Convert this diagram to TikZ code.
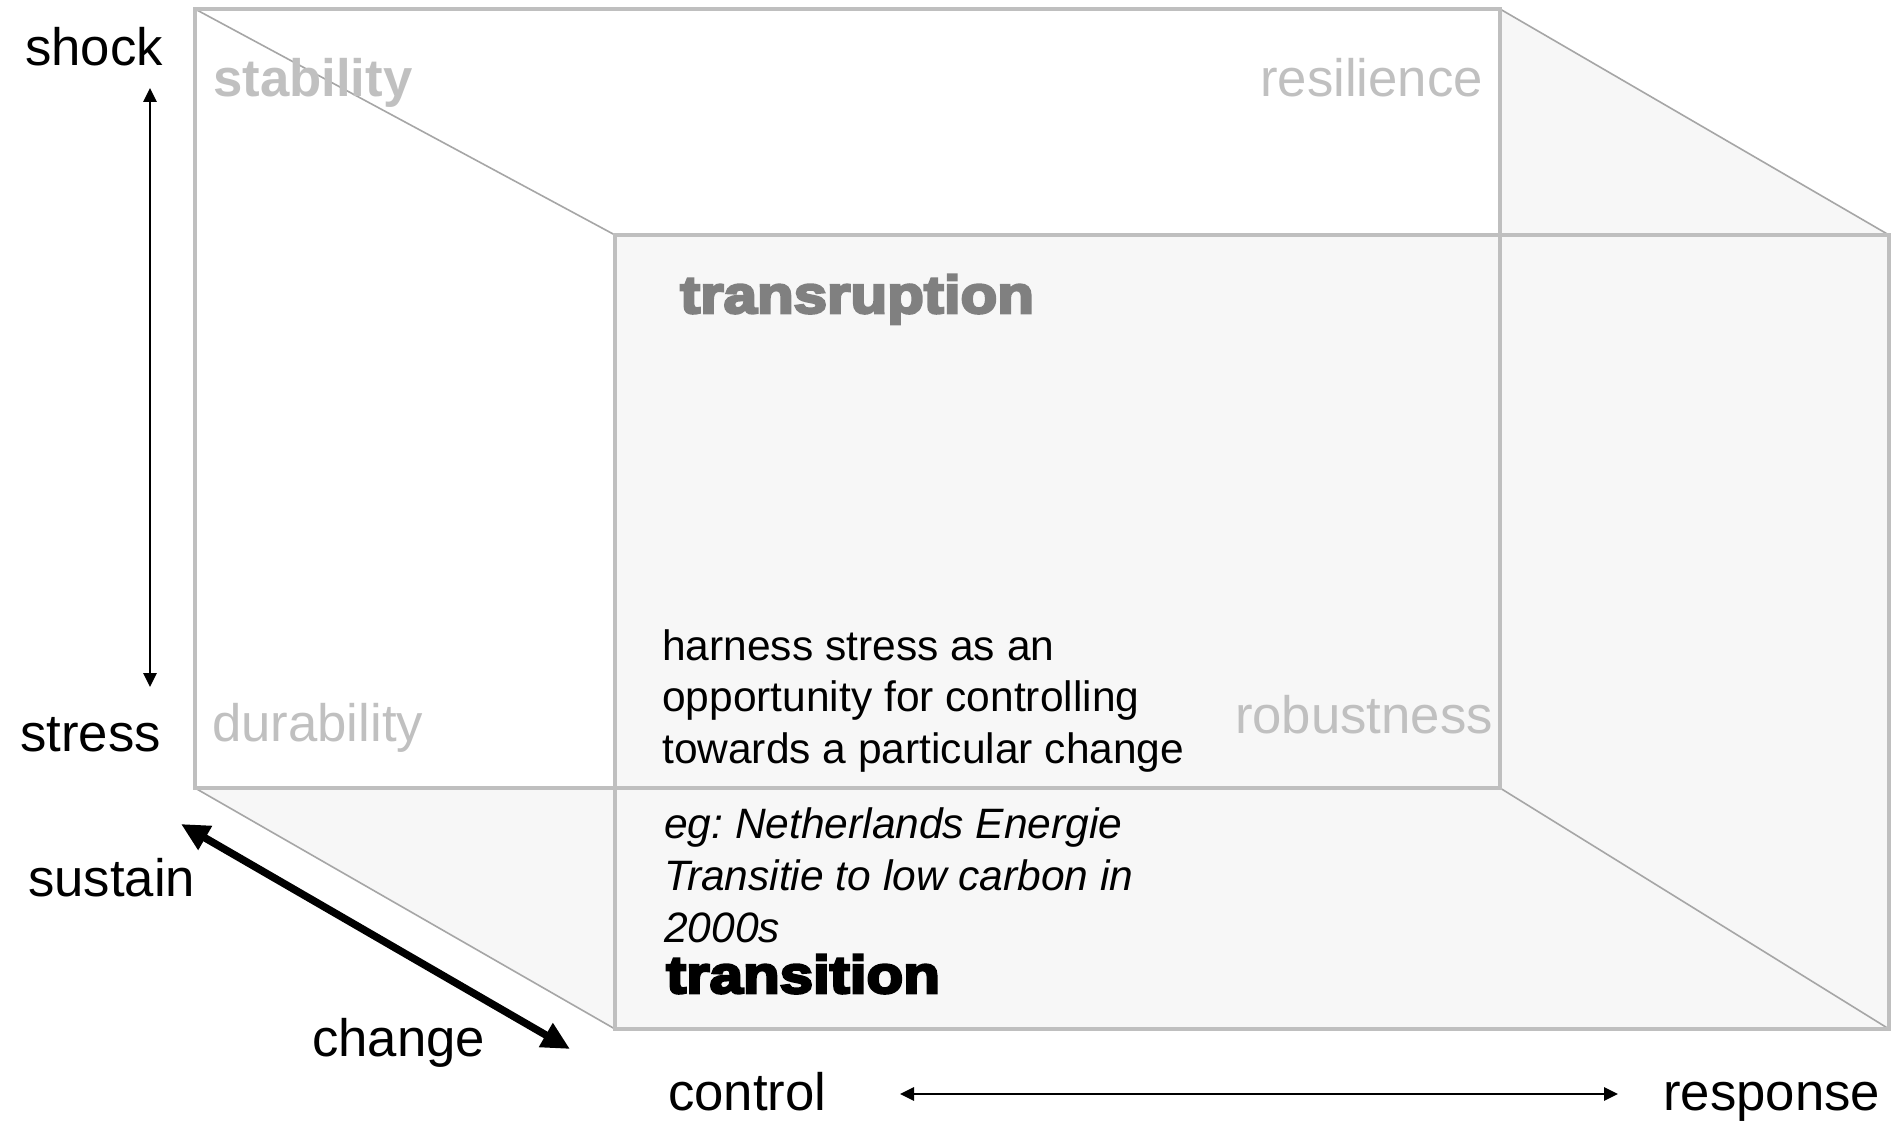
\documentclass[tikz,border=0pt]{standalone}
\usepackage{fontspec}
\setmainfont{Liberation Sans}
\newfontfamily\heavyfont{Liberation Sans Bold}[FakeBold=5,FakeStretch=1.14]
\usetikzlibrary{arrows.meta}
\definecolor{edgegray}{HTML}{BFBFBF}
\definecolor{diaggray}{HTML}{A6A6A6}
\definecolor{facegray}{HTML}{F7F7F7}
\definecolor{labelgray}{HTML}{C0C0C0}
\definecolor{midgray}{HTML}{808080}
\frenchspacing
\begin{document}
\begin{tikzpicture}[x=1pt,y=-1pt,
  axislabel/.style={inner sep=0pt, font=\fontsize{52.7}{63}\selectfont, text=black},
  cornerlabel/.style={inner sep=0pt, font=\fontsize{52.7}{63}\selectfont, text=labelgray},
  boldcorner/.style={inner sep=0pt, font=\fontsize{52.7}{63}\selectfont\bfseries, text=labelgray},
  heavylabel/.style={inner sep=0pt, font=\fontsize{52.7}{63}\heavyfont},
  bodytext/.style={inner sep=0pt, font=\fontsize{42.5}{51.5}\selectfont, align=left, text=black},
  face/.style={fill=facegray, draw=none},
  rimline/.style={draw=edgegray, line width=4pt},
  depthline/.style={draw=diaggray, line width=1.6pt},
  thinarrow/.style={draw=black, line width=2.8pt, {Triangle[length=14pt,width=13pt]}-{Triangle[length=14pt,width=13pt]}},
  thickarrow/.style={draw=black, line width=7.5pt, {Triangle[length=28pt,width=26pt]}-{Triangle[length=28pt,width=26pt]}}
]
\useasboundingbox (0,0) rectangle (1895,1121);
\fill[white] (0,0) rectangle (1895,1121);

% cube corners
\coordinate (B1) at (195,9);
\coordinate (B2) at (1500,9);
\coordinate (B3) at (1500,788);
\coordinate (B4) at (195,788);
\coordinate (F1) at (615,235);
\coordinate (F2) at (1889,235);
\coordinate (F3) at (1889,1029);
\coordinate (F4) at (615,1029);

% faces
\path[face] (B2) -- (F2) -- (F3) -- (B3) -- cycle;
\path[face] (B4) -- (B3) -- (F3) -- (F4) -- cycle;
\path[face] (F1) rectangle (F3);

% depth edges
\draw[depthline] (B1) -- (F1);
\draw[depthline] (B2) -- (F2);
\draw[depthline] (B3) -- (F3);
\draw[depthline] (B4) -- (F4);

% back and front rectangles
\draw[rimline] (B1) rectangle (B3);
\draw[rimline] (F1) rectangle (F3);

% corner labels
\node[boldcorner, anchor=base west] (stab) at (213,97) {stability};
\node[cornerlabel, anchor=base east] (resil) at (1483,97) {resilience};
\node[cornerlabel, anchor=base west] (dura) at (212,741) {durability};
\node[cornerlabel, anchor=base east] (robu) at (1493,733) {robustness};
\node[heavylabel, text=midgray, anchor=base west] (transr) at (680,313) {transruption};
\node[heavylabel, text=black, anchor=base west] (transi) at (666,993) {transition};

% body texts
\node[bodytext, anchor=north west] (harness) at (662,629) {harness stress as an\\opportunity for controlling\\towards a particular change};
\node[bodytext, anchor=north west, font=\fontsize{42.5}{52}\selectfont\itshape] (eg) at (664,807) {eg: Netherlands Energie\\Transitie to low carbon in\\2000s};

% axis labels
\node[axislabel, anchor=base east] (shock) at (163,66) {shock};
\node[axislabel, anchor=base east] (stress) at (161,751) {stress};
\node[axislabel, anchor=base west] (sustain) at (28,896) {sustain};
\node[axislabel, anchor=base west] (change) at (312,1056) {change};
\node[axislabel, anchor=base west] (control) at (668,1110) {control};
\node[axislabel, anchor=base west] (response) at (1663,1110) {response};

% arrows
\coordinate (vtop) at (150,88);
\coordinate (vbot) at (150,687);
\coordinate (dtl) at (181,824);
\coordinate (dbr) at (570,1049);
\coordinate (hl) at (900,1094);
\coordinate (hr) at (1618,1094);
\draw[thinarrow] (vtop) -- (vbot);
\draw[thickarrow] (dtl) -- (dbr);
\draw[thinarrow] (hl) -- (hr);
\end{tikzpicture}
\end{document}
